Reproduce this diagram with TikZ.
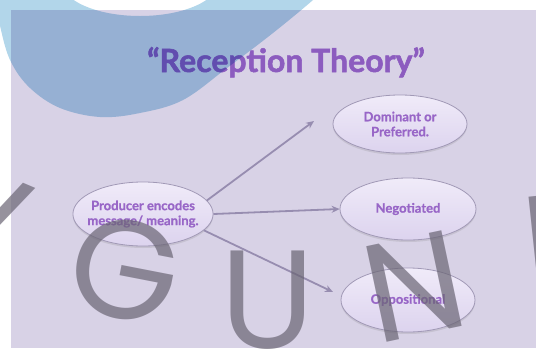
\documentclass[tikz,border=0pt]{standalone}
\usepackage{fontspec}
\usetikzlibrary{shapes.geometric,arrows.meta,shadows}
\newfontfamily\titlefont{Lato}[BoldFeatures={FakeBold=1.6}]
\newfontfamily\labelfont{Lato}[BoldFeatures={FakeBold=0.8}]
\newfontfamily\wmfont{Poppins}
\definecolor{slidebg}{HTML}{D8D2E6}
\definecolor{blobc}{HTML}{B2D6EA}
\definecolor{titlepurple}{HTML}{8C5CBF}
\definecolor{labelpurple}{HTML}{9866C7}
\definecolor{arrowc}{HTML}{978DB0}
\definecolor{ellborder}{HTML}{A199B6}
\definecolor{elltop}{HTML}{F0EBF9}
\definecolor{ellbot}{HTML}{DCD3EE}
\definecolor{wmgray}{HTML}{6A6574}
\begin{document}
\begin{tikzpicture}[x=1pt,y=-1pt,
  oval/.style={ellipse, draw=ellborder, line width=0.8pt, top color=elltop, bottom color=ellbot,
    drop shadow={opacity=0.2, shadow xshift=0pt, shadow yshift=-2pt},
    align=center, inner xsep=-6pt, inner ysep=0pt, text=labelpurple,
    font=\labelfont\bfseries\fontsize{13}{15}\selectfont},
  arr/.style={draw=arrowc, line width=1.8pt, -{Stealth[length=8pt,width=7pt]}},
  wm/.style={text=wmgray, text opacity=0.7, inner sep=0pt, font=\wmfont\fontsize{140}{140}\selectfont}
]
\useasboundingbox (0,0) rectangle (536,354);
\fill[white] (0,0) rectangle (536,354);
\fill[slidebg] (11,10) rectangle (536,348);

\node[anchor=base, inner sep=0pt, text=titlepurple, font=\titlefont\bfseries\fontsize{32}{36}\selectfont] (title) at (286,72) {“Reception Theory”};

\coordinate (domtip) at (314,121);
\coordinate (opptip) at (333,292);

\node[oval, minimum width=140, minimum height=64] (prod) at (143,214) {Producer encodes\\message/ meaning.};
\node[oval, minimum width=134, minimum height=58] (dom) at (400,124) {Dominant or\\Preferred.};
\node[oval, minimum width=136, minimum height=62] (neg) at (408,209) {Negotiated};
\node[oval, minimum width=134, minimum height=64] (opp) at (408,300) {Oppositional};

\draw[arr] (prod.12) -- (domtip);
\draw[arr] (prod.east) -- (neg.west);
\draw[arr] (prod.-15) -- (opptip);

\node[wm, rotate=-23] (wmV) at (-24,216) {V};
\node[wm, rotate=-11] (wmG) at (125,270) {G};
\node[wm] (wmU) at (268,300) {U};
\node[wm, rotate=12] (wmN) at (414,286) {N};
\node[wm, rotate=6] (wmN2) at (572,242) {N};

\begin{scope}[blend mode=multiply]
\fill[blobc, even odd rule] (-20,-70) -- plot[smooth, tension=0.6] coordinates {(-6,-10) (1,30) (11,62) (30,88) (60,108) (100,117) (140,113) (183,100) (227,68) (273,33) (313,0) (322,-10)} -- (330,-70) -- cycle
  (140,-19) ellipse [x radius=79, y radius=35];
\end{scope}
\end{tikzpicture}
\end{document}
